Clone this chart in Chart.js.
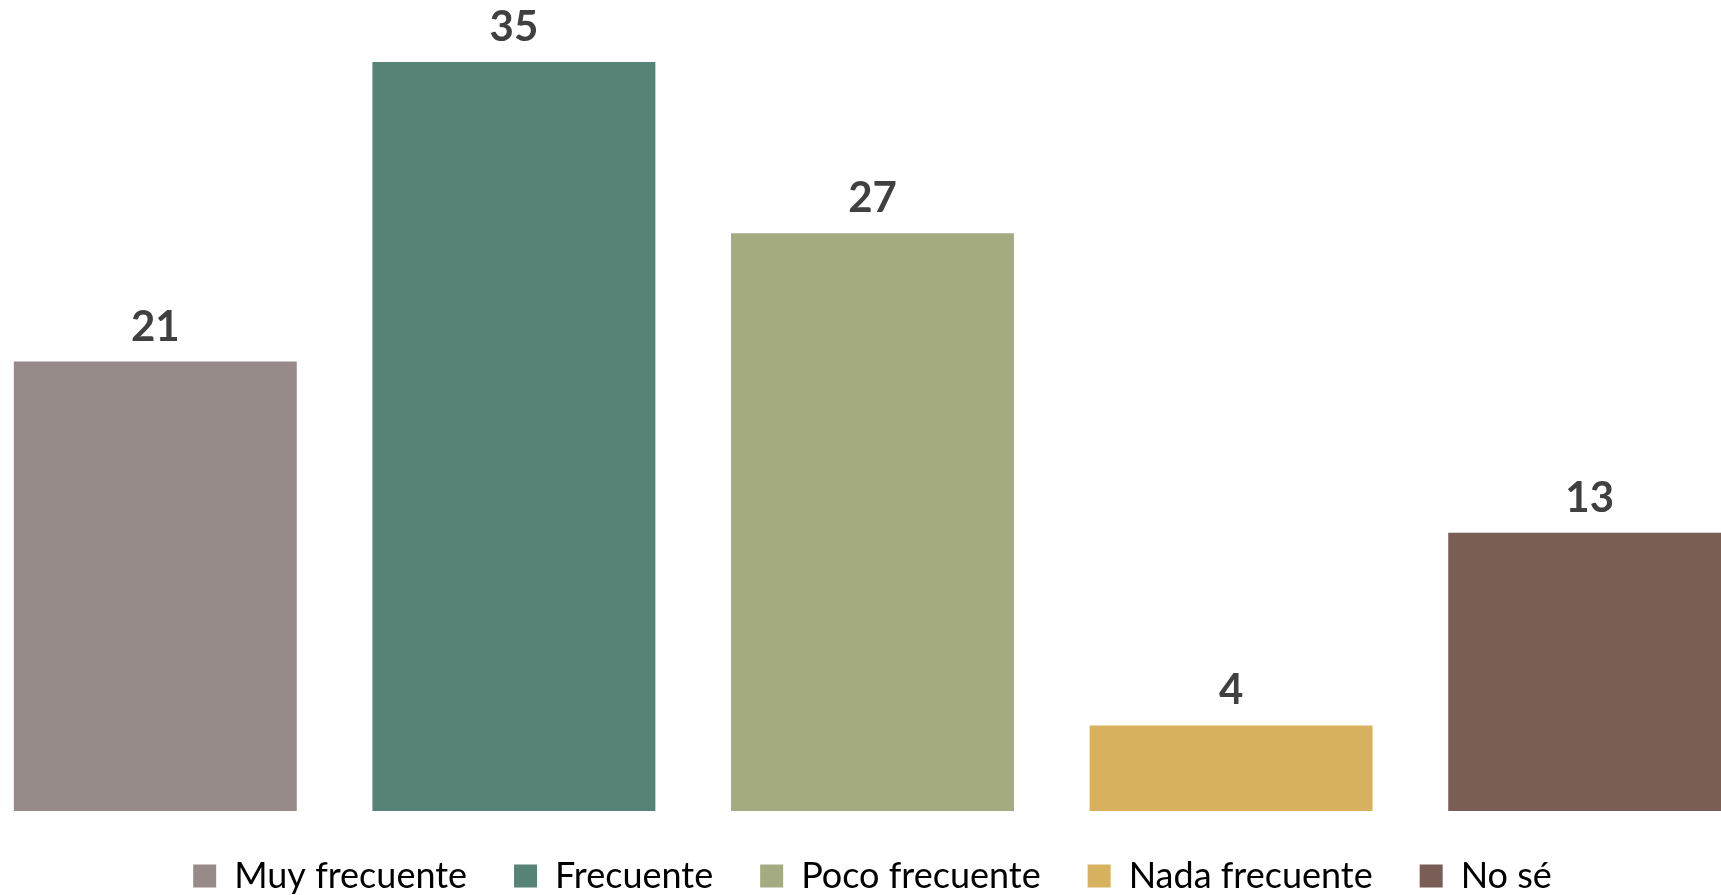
<!DOCTYPE html>
<html>
<head>
<meta charset="utf-8">
<script src="https://cdn.jsdelivr.net/npm/chart.js@4"></script>
<style>
  html, body { margin: 0; padding: 0; background: #fff; overflow: hidden; }
  #wrap { position: absolute; left: -24px; top: 0; width: 1793px; height: 904px; }
</style>
</head>
<body>
<div id="wrap"><canvas id="myChart"></canvas></div>
<script>
const categories = ["Muy frecuente", "Frecuente", "Poco frecuente", "Nada frecuente", "No sé"];
const values = [21, 35, 27, 4, 13];
const colors = ["#968b89", "#578278", "#a4ab80", "#d8b15e", "#7a5e55"];

// numbers above the bars
const valueLabels = {
    id: 'valueLabels',
    afterDatasetsDraw(chart) {
        const ctx = chart.ctx;
        const meta = chart.getDatasetMeta(0);
        ctx.save();
        ctx.font = 'bold 42px Lato';
        ctx.fillStyle = '#404040';
        ctx.textAlign = 'center';
        ctx.textBaseline = 'alphabetic';
        meta.data.forEach((bar, i) => {
            ctx.fillText(values[i], bar.x, bar.y - 21);
        });
        ctx.restore();
    }
};

new Chart(document.getElementById("myChart"), {
    type: 'bar',
    data: {
        labels: categories,
        datasets: [{
            data: values,
            backgroundColor: colors,
            categoryPercentage: 1,
            barPercentage: 0.789
        }]
    },
    options: {
        responsive: true,
        maintainAspectRatio: false,
        animation: false,
        layout: { padding: { top: 62, left: 0, right: 0, bottom: 0 } },
        scales: {
            x: { display: false },
            y: { display: false, min: 0, max: 35 }
        },
        plugins: {
            tooltip: { enabled: false },
            legend: {
                position: 'bottom',
                labels: {
                    boxWidth: 23,
                    boxHeight: 23,
                    padding: 47,
                    color: '#595959',
                    font: { family: 'Lato', size: 36 },
                    generateLabels(chart) {
                        return categories.map((c, i) => ({
                            text: c,
                            fillStyle: colors[i],
                            strokeStyle: colors[i],
                            lineWidth: 0,
                            index: i
                        }));
                    }
                }
            }
        }
    },
    plugins: [valueLabels]
});
</script>
</body>
</html>
